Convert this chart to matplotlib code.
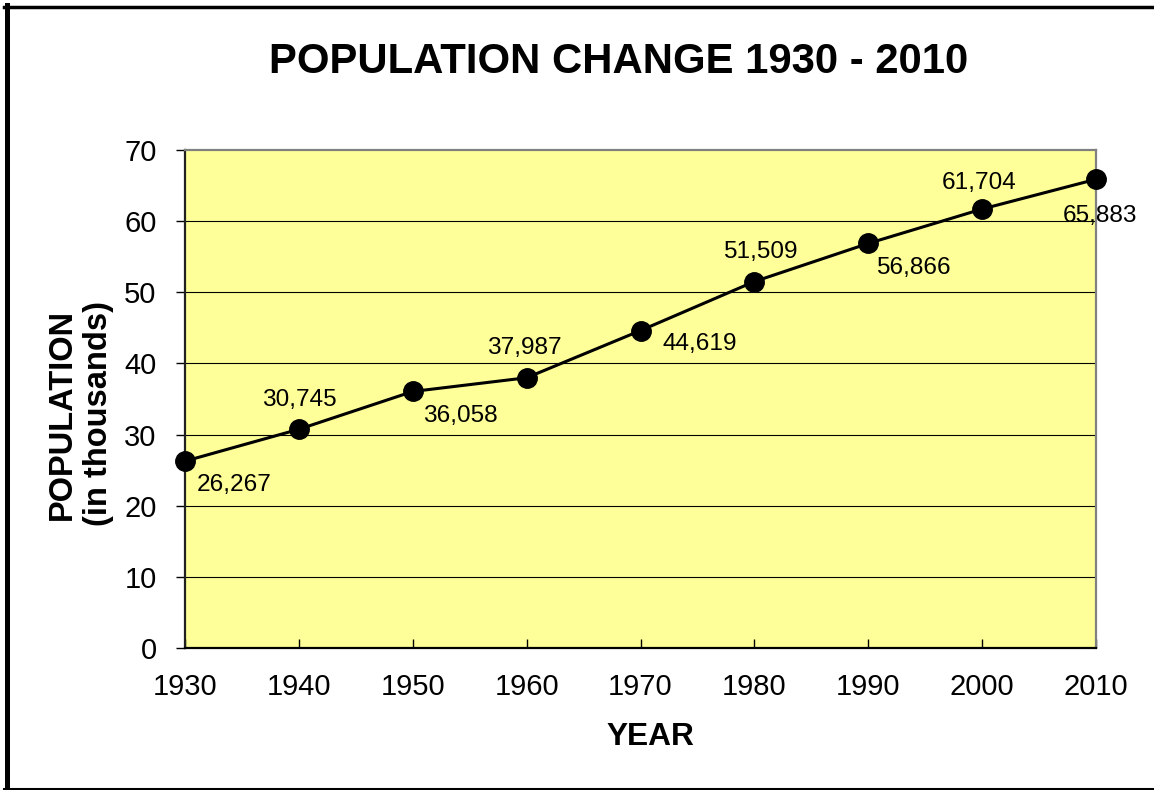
import matplotlib
matplotlib.use("Agg")
import matplotlib.pyplot as plt
from matplotlib.lines import Line2D

plt.rcParams['font.family'] = ['Liberation Sans', 'DejaVu Sans']

# Census population by decade (thousands)
years = [1930, 1940, 1950, 1960, 1970, 1980, 1990, 2000, 2010]
population = [26.267, 30.745, 36.058, 37.987, 44.619, 51.509, 56.866, 61.704, 65.883]
value_labels = ["26,267", "30,745", "36,058", "37,987", "44,619",
                "51,509", "56,866", "61,704", "65,883"]
y_ticks = [0, 10, 20, 30, 40, 50, 60, 70]

# label placement relative to each marker (pixels, horizontal alignment)
label_offsets = [(12, -24, 'left'), (0, 29, 'center'), (10, -25, 'left'),
                 (-2, 30, 'center'), (22, -13, 'left'), (6, 30, 'center'),
                 (8, -25, 'left'), (-3, 26, 'center'), (4, -37, 'center')]

fig = plt.figure(figsize=(11.54, 7.90), dpi=100)
ax = fig.add_axes([185 / 1154, 1 - 648 / 790, (1096 - 185) / 1154, (648 - 150) / 790])
ax.set_facecolor('#FFFF99')

ax.set_xlim(years[0], years[-1])
ax.set_ylim(0, 70)
ax.set_xticks(years)
ax.set_xticklabels([str(y) for y in years])
ax.set_yticks(y_ticks)

for v in y_ticks[1:-1]:
    ax.axhline(v, color='black', lw=0.8, zorder=1)

ax.plot(years, population, color='black', lw=2.2, marker='o',
        markersize=14, zorder=3, clip_on=False)

for x, y, txt, (dx, dy, ha) in zip(years, population, value_labels, label_offsets):
    ax.annotate(txt, (x, y), xytext=(dx, dy), textcoords='offset pixels',
                ha=ha, va='center', fontsize=17.6, color='black', zorder=4)

ax.tick_params(axis='x', direction='in', length=6.5, width=1, pad=18,
               labelsize=21, colors='black')
ax.tick_params(axis='y', direction='out', length=6.5, width=1, pad=14,
               labelsize=21, colors='black')

for side in ('top', 'right'):
    ax.spines[side].set_color('#808080')
    ax.spines[side].set_linewidth(1.6)
ax.spines['left'].set_color('#202020')
ax.spines['left'].set_linewidth(1.6)
ax.spines['bottom'].set_color('black')
ax.spines['bottom'].set_linewidth(1.6)

fig.text(619 / 1154, 1 - 62 / 790, "POPULATION CHANGE 1930 - 2010",
         ha='center', va='center', fontsize=30.2, fontweight='bold')
fig.text(650 / 1154, 1 - 737 / 790, "YEAR",
         ha='center', va='center', fontsize=22.8, fontweight='bold')
fig.text(80.5 / 1154, 1 - 414 / 790, "POPULATION\n(in thousands)",
         ha='center', va='center', rotation=90, fontsize=23.5,
         fontweight='bold', linespacing=1.2)

# outer frame
fig.add_artist(Line2D([6.5 / 1154, 6.5 / 1154], [0, 1 - 5 / 790],
                      transform=fig.transFigure, color='black', lw=3.6))
fig.add_artist(Line2D([4 / 1154, 1], [1 - 6.5 / 790, 1 - 6.5 / 790],
                      transform=fig.transFigure, color='black', lw=2.5))
fig.add_artist(Line2D([4 / 1154, 1], [1 - 788.5 / 790, 1 - 788.5 / 790],
                      transform=fig.transFigure, color='black', lw=2.2))

fig.savefig('out.png', dpi=100)
